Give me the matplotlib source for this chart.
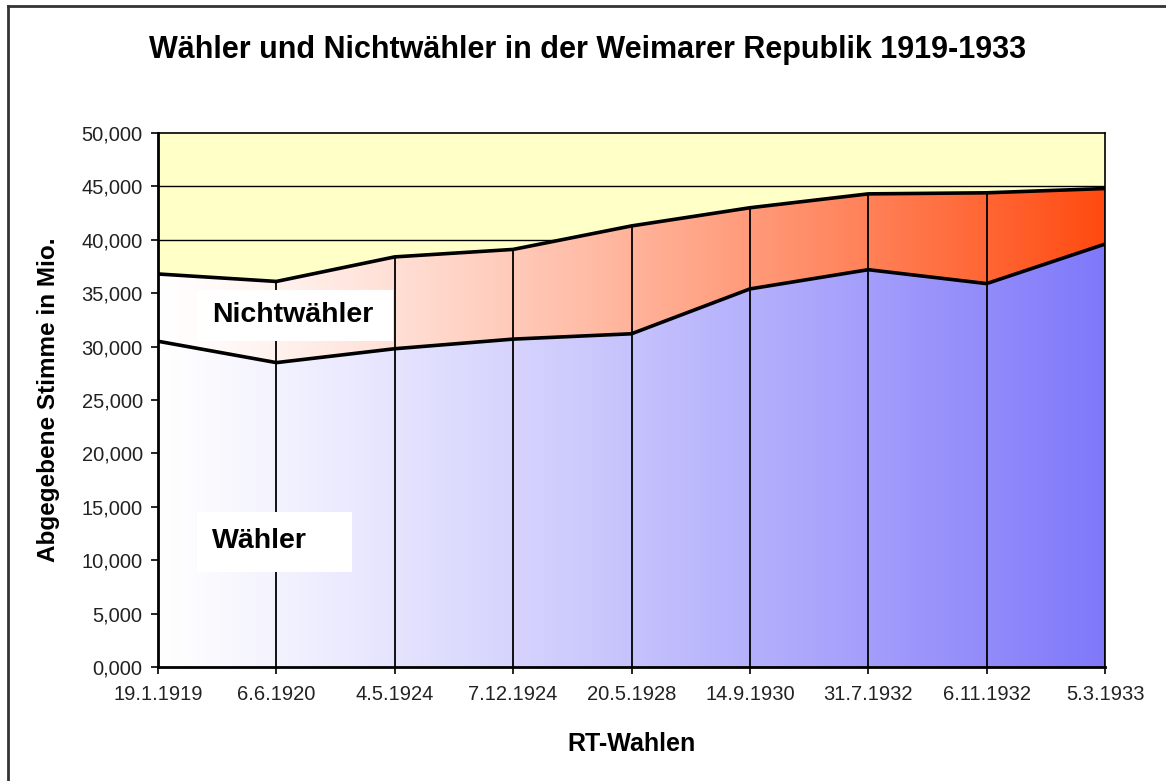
#!/usr/bin/env python3
import matplotlib
matplotlib.use("Agg")
import matplotlib.pyplot as plt
import numpy as np
from matplotlib.lines import Line2D
from matplotlib.patches import Rectangle

plt.rcParams["font.family"] = ["Liberation Sans", "DejaVu Sans"]

# Reichstagswahlen, Stimmen in Mio.
wahlen = ["19.1.1919", "6.6.1920", "4.5.1924", "7.12.1924", "20.5.1928",
          "14.9.1930", "31.7.1932", "6.11.1932", "5.3.1933"]
waehler = [30.5, 28.5, 29.8, 30.7, 31.2, 35.4, 37.2, 35.9, 39.6]
berechtigte = [36.8, 36.1, 38.4, 39.1, 41.3, 43.0, 44.3, 44.4, 44.8]
nichtwaehler = [b - w for b, w in zip(berechtigte, waehler)]
yticks = [0, 5, 10, 15, 20, 25, 30, 35, 40, 45, 50]
ytick_labels = ["0,000", "5,000", "10,000", "15,000", "20,000", "25,000",
                "30,000", "35,000", "40,000", "45,000", "50,000"]


def gradient_fill(ax, x, lower, upper, c_left, c_right, gamma=1.0):
    """ Fill between two curves with a horizontal colour gradient """
    poly = ax.fill_between(x, lower, upper, color="none", lw=0)
    t = np.linspace(0, 1, 400) ** gamma
    c0 = np.array(c_left)
    c1 = np.array(c_right)
    img = (c0[None, :] + (c1 - c0)[None, :] * t[:, None])[None, :, :]
    im = ax.imshow(img, extent=[x[0], x[-1], 0, 50], aspect="auto",
                   origin="lower", zorder=2, interpolation="bilinear")
    im.set_clip_path(poly.get_paths()[0], transform=ax.transData)


def label_box(ax, text, tx, ty, x0, x1, y0, y1):
    """ White box with a bold label, hiding the lines behind it """
    ax.add_patch(Rectangle((x0, y0), x1 - x0, y1 - y0, facecolor="white",
                           edgecolor="none", zorder=3.5))
    ax.text(tx, ty, text, fontsize=20.5, fontweight="bold",
            ha="center", va="center", zorder=5)


def main():
    fig = plt.figure(figsize=(11.66, 7.81), dpi=100)
    ax = fig.add_axes([0.1355, 0.146, 0.8122, 0.6837])
    ax.set_facecolor("#FFFFC8")

    x = np.arange(len(wahlen))
    w = np.array(waehler)
    total = w + np.array(nichtwaehler)

    # horizontal grid lines behind the areas
    for g in [40, 45]:
        ax.axhline(g, color="black", lw=1.0, zorder=1)

    gradient_fill(ax, x, np.zeros_like(w), w,
                  (1.0, 1.0, 1.0), (0.50, 0.47, 0.98), gamma=1.15)
    gradient_fill(ax, x, w, total,
                  (1.0, 1.0, 1.0), (1.0, 0.29, 0.06), gamma=1.25)

    # drop lines at each election
    ax.vlines(x, 0, total, color="black", lw=1.3, zorder=3)

    ax.plot(x, w, color="black", lw=2.6, zorder=4, solid_joinstyle="miter")
    ax.plot(x, total, color="black", lw=2.6, zorder=4, solid_joinstyle="miter")

    label_box(ax, "Nichtwähler", 1.14, 33.0, 0.33, 1.985, 30.5, 35.3)
    label_box(ax, "Wähler", 0.853, 11.8, 0.33, 1.64, 8.9, 14.5)

    ax.set_xlim(0, len(wahlen) - 1)
    ax.set_ylim(0, 50)
    ax.set_xticks(x)
    ax.set_xticklabels(wahlen, fontsize=14.5, color="#222222")
    ax.set_yticks(yticks)
    ax.set_yticklabels(ytick_labels, fontsize=14.5, color="#222222")
    ax.tick_params(axis="both", direction="out", length=5, width=1.2,
                   color="black")
    ax.tick_params(axis="x", pad=8)
    ax.tick_params(axis="y", pad=6)

    for side in ["left", "bottom"]:
        ax.spines[side].set_linewidth(2.0)
    for side in ["top", "right"]:
        ax.spines[side].set_linewidth(1.2)
    for s in ax.spines.values():
        s.set_zorder(6)

    ax.set_xlabel("RT-Wahlen", fontsize=18, fontweight="bold")
    ax.xaxis.set_label_coords(0.5, -0.144)
    ax.xaxis.label.set_va("center")
    ax.set_ylabel("Abgegebene Stimme in Mio.", fontsize=17.5, fontweight="bold")
    ax.yaxis.set_label_coords(-0.116, 0.5)
    ax.yaxis.label.set_va("center")

    fig.text(0.504, 0.936, "Wähler und Nichtwähler in der Weimarer Republik 1919-1933",
             fontsize=22, fontweight="bold", ha="center", va="center")

    # outer frame (left and top visible)
    fig.add_artist(Line2D([0.0068, 0.0068], [0.0, 0.9923], color="#333333",
                          lw=2.0, transform=fig.transFigure))
    fig.add_artist(Line2D([0.0068, 1.0], [0.9923, 0.9923], color="#333333",
                          lw=2.0, transform=fig.transFigure))

    fig.savefig("out.png", dpi=100)


if __name__ == "__main__":
    main()
